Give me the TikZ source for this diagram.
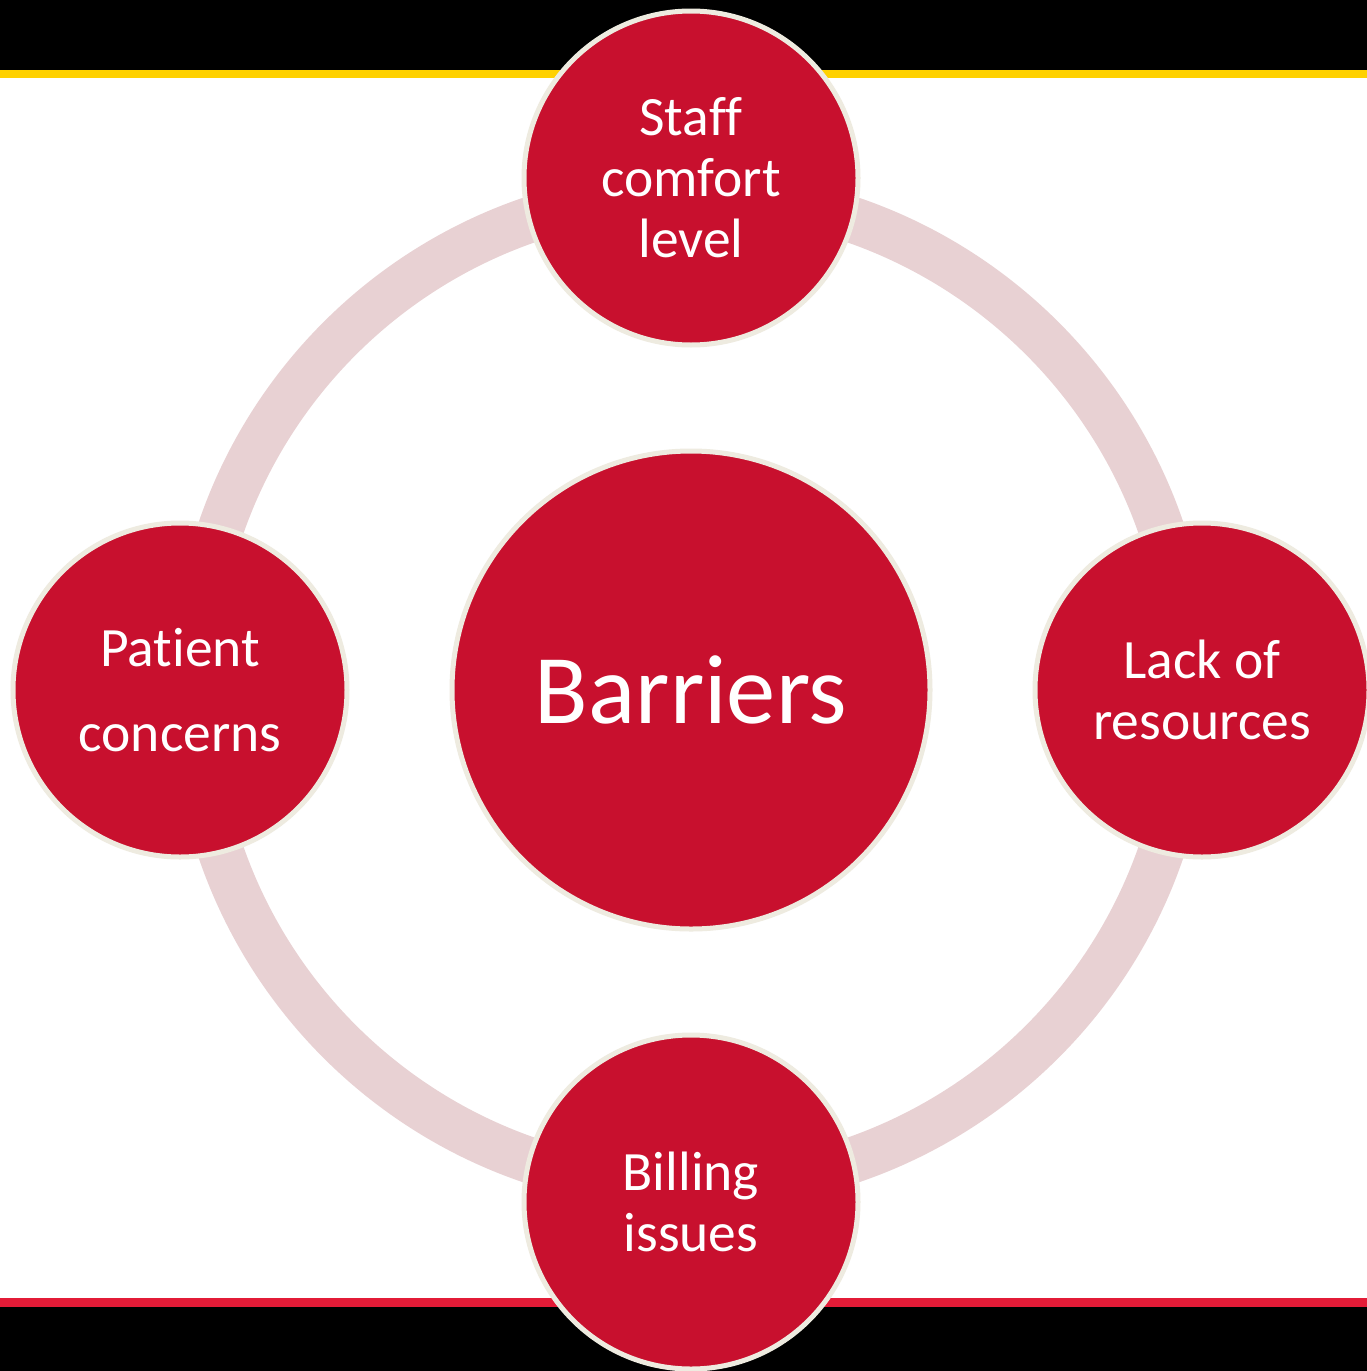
\documentclass[tikz,border=0pt]{standalone}
\usepackage{fontspec}
\setmainfont{Carlito}[Ligatures={NoCommon}]
\definecolor{cred}{HTML}{C8102E}
\definecolor{cring}{HTML}{E8D1D3}
\definecolor{cedge}{HTML}{EEEBE0}
\definecolor{cyel}{HTML}{FFD100}
\definecolor{cbar}{HTML}{E31B37}
\begin{document}
\begin{tikzpicture}[x=1pt,y=-1pt,
  bubble/.style={circle,fill=cred,draw=cedge,line width=5pt,text=white,align=center,inner sep=0pt},
  small/.style={bubble,minimum size=334pt,font=\fontsize{55.5}{61}\selectfont},
  big/.style={bubble,minimum size=478pt,font=\fontsize{98.5}{100}\selectfont}]
\useasboundingbox (0,0) rectangle (1367,1371);
\clip (0,0) rectangle (1367,1371);
\fill[white] (0,0) rectangle (1367,1371);
% bars
\fill[black] (0,0) rectangle (1367,70);
\fill[cyel] (0,70) rectangle (1367,78);
\fill[cbar] (0,1298) rectangle (1367,1307);
\fill[black] (0,1307) rectangle (1367,1371);
% ring
\coordinate (ctr) at (691,690);
\draw[cring,line width=46pt] (ctr) circle[radius=497pt];
% nodes
\node[big] (barriers) at (ctr) {Barriers};
\node[small] (staff) at (691,178) {Staff\\comfort\\level};
\node[small] (lack) at (1202,690) {Lack of\\resources};
\node[small] (billing) at (691,1202) {Billing\\issues};
\node[small,font=\fontsize{55.5}{85}\selectfont] (patient) at (180,690) {Patient\\concerns};
\end{tikzpicture}
\end{document}
